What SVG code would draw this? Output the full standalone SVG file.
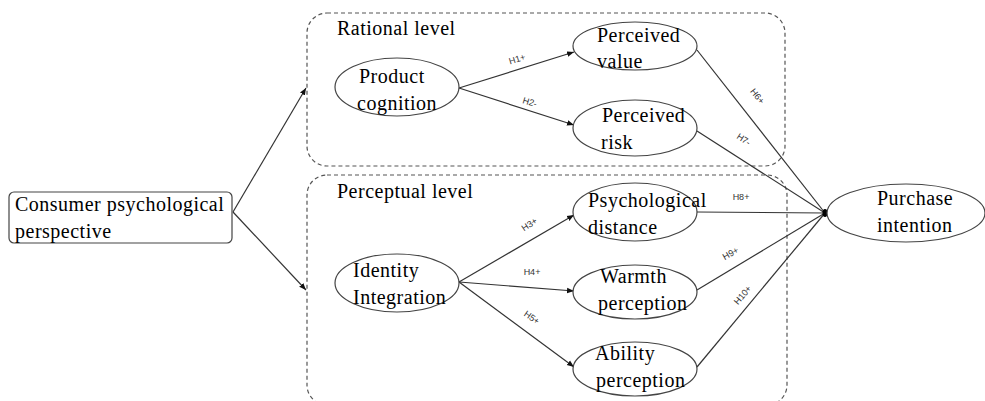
<svg xmlns="http://www.w3.org/2000/svg" width="985" height="401" viewBox="0 0 985 401">
<style>
.t{font-family:"Liberation Serif","Times New Roman",serif;font-size:20px;letter-spacing:0.5px;fill:#000}
.l{font-family:"Liberation Sans",Arial,sans-serif;font-size:9px;fill:#333}
.n{fill:#fff;stroke:#444;stroke-width:1.2}
.grp{fill:none;stroke:#555;stroke-width:1.2;stroke-dasharray:4 3}
.c{stroke:#333;stroke-width:1.2;fill:none}
</style>
<defs>
<marker id="a" viewBox="0 0 10 10" refX="10" refY="5" markerWidth="7" markerHeight="7" markerUnits="userSpaceOnUse" orient="auto">
<path d="M0,1 L10,5 L0,9 Z" fill="#111"/>
</marker>
</defs>
<rect width="985" height="401" fill="#fff"/>
<g id="rational-level">
<rect class="grp" x="307" y="13" width="478" height="153" rx="20"/>
<text class="t" x="337" y="35">Rational level</text>
</g>
<g id="perceptual-level">
<rect class="grp" x="307" y="175" width="480" height="230" rx="20"/>
<text class="t" x="337" y="198">Perceptual level</text>
</g>
<g id="connectors">
<line class="c" x1="233" y1="212" x2="306" y2="88" marker-end="url(#a)"/>
<line class="c" x1="233" y1="212" x2="306" y2="290" marker-end="url(#a)"/>
<line class="c" x1="459" y1="88" x2="574" y2="52" marker-end="url(#a)"/>
<line class="c" x1="459" y1="88" x2="574" y2="125" marker-end="url(#a)"/>
<line class="c" x1="459" y1="282" x2="574" y2="215" marker-end="url(#a)"/>
<line class="c" x1="459" y1="282" x2="574" y2="291" marker-end="url(#a)"/>
<line class="c" x1="459" y1="282" x2="574" y2="367" marker-end="url(#a)"/>
<line class="c" x1="697" y1="50" x2="825" y2="213"/>
<line class="c" x1="697" y1="131" x2="825" y2="213"/>
<line class="c" x1="697" y1="212" x2="825" y2="213"/>
<line class="c" x1="697" y1="290" x2="825" y2="213"/>
<line class="c" x1="697" y1="367" x2="825" y2="213"/>
<ellipse cx="825" cy="213" rx="2.5" ry="4" fill="#000"/>
<text class="l" transform="translate(518,62) rotate(-17)" text-anchor="middle">H1+</text>
<text class="l" transform="translate(529,105) rotate(17)" text-anchor="middle">H2-</text>
<text class="l" transform="translate(531,227) rotate(-33)" text-anchor="middle">H3+</text>
<text class="l" transform="translate(532,275)" text-anchor="middle">H4+</text>
<text class="l" transform="translate(530,320) rotate(35)" text-anchor="middle">H5+</text>
<text class="l" transform="translate(755,98) rotate(52)" text-anchor="middle">H6+</text>
<text class="l" transform="translate(742,142) rotate(33)" text-anchor="middle">H7-</text>
<text class="l" transform="translate(741,200)" text-anchor="middle">H8+</text>
<text class="l" transform="translate(732,256) rotate(-30)" text-anchor="middle">H9+</text>
<text class="l" transform="translate(745,297) rotate(-50)" text-anchor="middle">H10+</text>
</g>
<g id="consumer-psychological-perspective">
<rect class="n" x="9" y="192" width="223" height="51" rx="5"/>
<text class="t" x="15" y="211">Consumer psychological</text>
<text class="t" x="15" y="238">perspective</text>
</g>
<g id="product-cognition">
<ellipse class="n" cx="397" cy="87" rx="62" ry="29"/>
<text class="t" x="359" y="83">Product</text>
<text class="t" x="357" y="110">cognition</text>
</g>
<g id="perceived-value">
<ellipse class="n" cx="635" cy="46" rx="62" ry="24"/>
<text class="t" x="597" y="42">Perceived</text>
<text class="t" x="597" y="68">value</text>
</g>
<g id="perceived-risk">
<ellipse class="n" cx="635" cy="128" rx="62" ry="28"/>
<text class="t" x="602" y="122">Perceived</text>
<text class="t" x="601" y="149">risk</text>
</g>
<g id="identity-integration">
<ellipse class="n" cx="397" cy="283" rx="62" ry="29"/>
<text class="t" x="353" y="277">Identity</text>
<text class="t" x="353" y="304">Integration</text>
</g>
<g id="psychological-distance">
<ellipse class="n" cx="635" cy="212" rx="62" ry="29"/>
<text class="t" x="588" y="207">Psychological</text>
<text class="t" x="588" y="234">distance</text>
</g>
<g id="warmth-perception">
<ellipse class="n" cx="635" cy="292" rx="62" ry="27"/>
<text class="t" x="600" y="283">Warmth</text>
<text class="t" x="598" y="310">perception</text>
</g>
<g id="ability-perception">
<ellipse class="n" cx="635" cy="369" rx="62" ry="27"/>
<text class="t" x="595" y="360">Ability</text>
<text class="t" x="596" y="387">perception</text>
</g>
<g id="purchase-intention">
<ellipse class="n" cx="906" cy="213" rx="79" ry="29"/>
<text class="t" x="877" y="205">Purchase</text>
<text class="t" x="877" y="232">intention</text>
</g>
</svg>
